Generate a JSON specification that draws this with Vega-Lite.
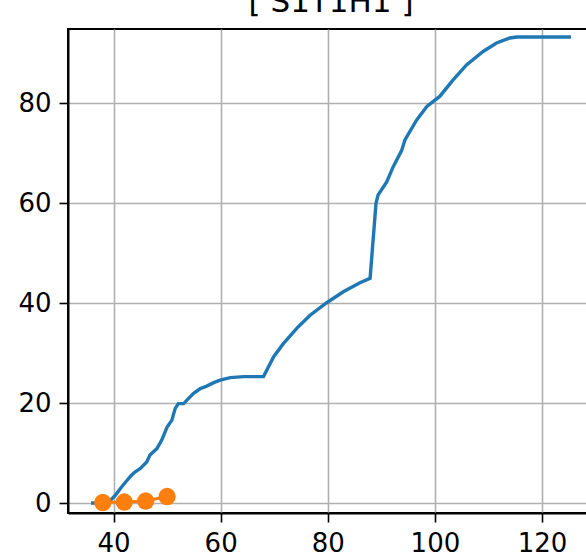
{
  "$schema": "https://vega.github.io/schema/vega-lite/v6.json",
  "autosize": {"type": "none"},
  "padding": {"left": 68, "top": 29, "right": 0, "bottom": 45},
  "width": 526,
  "height": 484,
  "background": "white",
  "title": {
    "text": "[ S1T1H1 ]",
    "font": "DejaVu Sans",
    "fontSize": 31,
    "fontWeight": "normal",
    "color": "black",
    "anchor": "middle",
    "frame": "group",
    "baseline": "alphabetic",
    "offset": 0,
    "dy": 14
  },
  "config": {
    "view": {"stroke": "black", "strokeWidth": 2},
    "axis": {
      "domainColor": "black",
      "domainWidth": 2,
      "gridColor": "#b0b0b0",
      "gridWidth": 1.6,
      "gridOpacity": 1,
      "tickColor": "black",
      "tickWidth": 1.6,
      "tickSize": 9,
      "labelFont": "DejaVu Sans",
      "labelFontSize": 26,
      "labelColor": "black",
      "labelPadding": 8,
      "title": null
    }
  },
  "datasets": {
    "blue": [
      {"x": 35.8, "y": 0}, {"x": 37, "y": 0}, {"x": 39.4, "y": 0.5}, {"x": 40.3, "y": 1.5},
      {"x": 41.5, "y": 3.2}, {"x": 42.5, "y": 4.5}, {"x": 43.3, "y": 5.5}, {"x": 44.0, "y": 6.2},
      {"x": 45.0, "y": 6.9}, {"x": 46.2, "y": 8.2}, {"x": 46.8, "y": 9.6}, {"x": 48.1, "y": 10.9},
      {"x": 49.0, "y": 12.6}, {"x": 50.0, "y": 15.2}, {"x": 50.9, "y": 16.6}, {"x": 51.5, "y": 18.9},
      {"x": 52.1, "y": 19.9}, {"x": 53.1, "y": 19.9}, {"x": 53.7, "y": 20.6}, {"x": 54.9, "y": 21.9},
      {"x": 56.2, "y": 22.9}, {"x": 57.4, "y": 23.4}, {"x": 58.7, "y": 24.1}, {"x": 59.9, "y": 24.6},
      {"x": 61.8, "y": 25.1}, {"x": 64.3, "y": 25.3}, {"x": 68.0, "y": 25.3}, {"x": 69.9, "y": 29.3},
      {"x": 71.7, "y": 31.9}, {"x": 74.5, "y": 35.3}, {"x": 76.7, "y": 37.6}, {"x": 79.8, "y": 40.1},
      {"x": 82.9, "y": 42.3}, {"x": 86.0, "y": 44.1}, {"x": 87.9, "y": 45.0}, {"x": 89.0, "y": 60.0},
      {"x": 89.4, "y": 61.7}, {"x": 91.0, "y": 64.3}, {"x": 92.2, "y": 67.3}, {"x": 93.8, "y": 70.6},
      {"x": 94.4, "y": 72.7}, {"x": 96.6, "y": 76.7}, {"x": 98.5, "y": 79.4}, {"x": 99.7, "y": 80.4},
      {"x": 100.9, "y": 81.4}, {"x": 103.4, "y": 84.7}, {"x": 105.9, "y": 87.7}, {"x": 109.0, "y": 90.4},
      {"x": 111.5, "y": 92.1}, {"x": 114.0, "y": 93.1}, {"x": 115.3, "y": 93.3}, {"x": 125.4, "y": 93.3}
    ],
    "orange": [
      {"x": 38, "y": 0.1}, {"x": 42, "y": 0.2}, {"x": 46, "y": 0.4}, {"x": 50, "y": 1.3}
    ]
  },
  "encoding": {
    "x": {
      "field": "x", "type": "quantitative",
      "scale": {"domain": [31.5, 129.7], "nice": false, "zero": false},
      "axis": {"values": [40, 60, 80, 100, 120]}
    },
    "y": {
      "field": "y", "type": "quantitative",
      "scale": {"domain": [-2, 94.9], "nice": false, "zero": false},
      "axis": {"values": [0, 20, 40, 60, 80]}
    }
  },
  "layer": [
    {
      "data": {"name": "blue"},
      "mark": {"type": "line", "color": "#1f77b4", "strokeWidth": 3.4, "clip": true}
    },
    {
      "data": {"name": "orange"},
      "mark": {"type": "line", "color": "#ff7f0e", "strokeWidth": 3, "point": {"size": 300, "filled": true, "color": "#ff7f0e", "opacity": 1}}
    }
  ]
}
